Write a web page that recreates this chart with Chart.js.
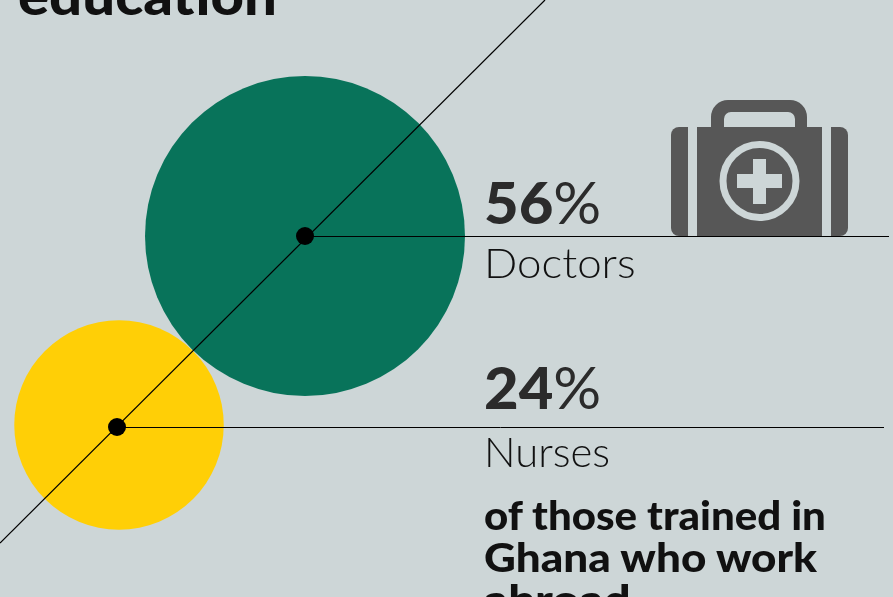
<!DOCTYPE html>
<html>
<head>
<meta charset="utf-8">
<script src="https://cdn.jsdelivr.net/npm/chart.js@4"></script>
<style>
    html, body { margin: 0; padding: 0; width: 893px; height: 597px; overflow: hidden; background: #cdd6d7; }
    #chart { position: absolute; left: 0; top: 0; }
    .label { position: absolute; white-space: nowrap; font-family: Lato, sans-serif; color: #111; line-height: 1; transform-origin: left top; }
    .pct { left: 484px; font-size: 58px; font-weight: 900; color: #2b2b2b; transform: scaleX(1.03); }
    .pct span { font-weight: 400; }
    .cat { left: 484px; font-size: 41px; font-weight: 300; }
    .note { left: 484px; font-size: 40px; font-weight: 900; line-height: 42px; }
    #title { left: 18px; top: -32px; font-size: 54px; font-weight: 900; transform: scaleX(1.075); }
    #kit { position: absolute; left: 0; top: 0; }
</style>
</head>
<body>
<canvas id="chart" width="893" height="597"></canvas>
<svg id="kit" width="893" height="597" fill="#575757">
    <path d="M671 135a8 8 0 0 1 8-8h9v109h-9a8 8 0 0 1-8-8z"/>
    <path d="M848 135a8 8 0 0 0-8-8h-9v109h9a8 8 0 0 0 8-8z"/>
    <path d="M697 127h14v-10a17 17 0 0 1 17-17h62a17 17 0 0 1 17 17v10h15v109h-125zM724 127h71v-8a7 7 0 0 0-7-7h-57a7 7 0 0 0-7 7z" fill-rule="evenodd"/>
    <circle cx="759.5" cy="181" r="36.5" fill="none" stroke="#cdd6d7" stroke-width="7"/>
    <path d="M753 159h13v15h16v14h-16v16h-13v-16h-16v-14h16z" fill="#cdd6d7"/>
</svg>
<div class="label" id="title">education</div>
<div class="label pct" id="pct0"></div>
<div class="label cat" id="cat0"></div>
<div class="label pct" id="pct1"></div>
<div class="label cat" id="cat1"></div>
<div class="label note" id="note0"></div>
<div class="label note" id="note1"></div>
<div class="label note" id="note2"></div>
<script>
const categories = ['Doctors', 'Nurses'];
const shares = [56, 24];
const bubbleColors = ['#08735a', '#ffcf06'];
const noteLines = ['of those trained in', 'Ghana who work', 'abroad'];

// чарт без осей: шкалы совпадают с размером картинки
const bubbleX = [305, 119];
const bubbleY = [236, 425];
const dotX = [305, 117];
const dotY = [236, 427];
const leaderY = [236.5, 427.5];
const leaderEndX = [889, 884];
const diagonalX = [0, 545];
const diagonalY = [543, 0];

const radiusPerRootShare = 21.38;
const dotRadius = 9;
const pctTop = [173, 358];
const catTop = [242, 431];
const catStretch = [1.07, 1.02];
const noteTop = [494, 536, 578];
const noteStretch = [1.05, 1.1, 1.18];

function initChart() {
    const ctx = document.getElementById('chart').getContext('2d');

    const lineStyle = { type: 'line', borderColor: '#000', borderWidth: 1, pointRadius: 0, order: 2 };

    new Chart(ctx, {
        type: 'bubble',
        data: {
            datasets: [
                {
                    label: 'Dots',
                    data: categories.map((c, i) => ({ x: dotX[i], y: dotY[i], r: dotRadius })),
                    backgroundColor: '#000',
                    borderWidth: 0,
                    order: 1
                },
                {
                    ...lineStyle,
                    borderWidth: 1.2,
                    label: 'Diagonal',
                    data: diagonalX.map((x, i) => ({ x: x, y: diagonalY[i] }))
                },
                ...categories.map((c, i) => ({
                    ...lineStyle,
                    label: c + ' leader',
                    data: [{ x: dotX[i], y: leaderY[i] }, { x: leaderEndX[i], y: leaderY[i] }]
                })),
                {
                    label: 'Share',
                    data: categories.map((c, i) => ({
                        x: bubbleX[i],
                        y: bubbleY[i],
                        r: radiusPerRootShare * Math.sqrt(shares[i])
                    })),
                    backgroundColor: bubbleColors,
                    borderWidth: 0,
                    order: 3
                }
            ]
        },
        options: {
            responsive: false,
            animation: false,
            layout: { padding: 0, autoPadding: false },
            plugins: { legend: { display: false }, tooltip: { enabled: false } },
            scales: {
                x: { type: 'linear', min: 0, max: 893, display: false },
                y: { type: 'linear', min: 0, max: 597, reverse: true, display: false }
            }
        }
    });
}

function initLabels() {
    categories.forEach((c, i) => {
        const pct = document.getElementById('pct' + i);
        pct.innerHTML = shares[i] + '<span>%</span>';
        pct.style.top = pctTop[i] + 'px';
        const cat = document.getElementById('cat' + i);
        cat.textContent = c;
        cat.style.top = catTop[i] + 'px';
        cat.style.transform = 'scaleX(' + catStretch[i] + ')';
    });
    noteLines.forEach((line, i) => {
        const note = document.getElementById('note' + i);
        note.textContent = line;
        note.style.top = noteTop[i] + 'px';
        note.style.transform = 'scaleX(' + noteStretch[i] + ')';
    });
}

document.addEventListener('DOMContentLoaded', () => {
    initChart();
    initLabels();
});
</script>
</body>
</html>
